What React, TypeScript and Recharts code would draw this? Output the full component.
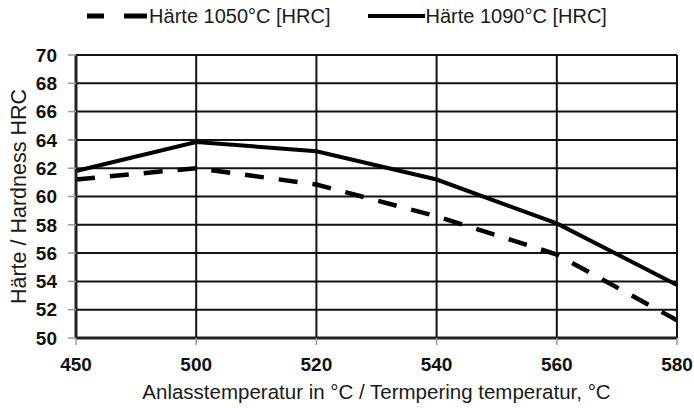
import { CartesianGrid, Label, Legend, Line, LineChart, XAxis, YAxis } from "recharts";

// Anlasstemperatur (°C)
const temps = ["450", "500", "520", "540", "560", "580"];
// Härte nach Härtetemperatur 1050 °C
const haerte1050 = [61.2, 62.0, 60.85, 58.6, 55.9, 51.25];
// Härte nach Härtetemperatur 1090 °C
const haerte1090 = [61.8, 63.85, 63.2, 61.2, 58.1, 53.75];
const yTicks = [50, 52, 54, 56, 58, 60, 62, 64, 66, 68, 70];

const data = temps.map((t, i) => ({
  temp: t,
  h1050: haerte1050[i],
  h1090: haerte1090[i],
}));

const font = "'Liberation Sans', Arial, sans-serif";

const LegendBox = () => (
  <div
    style={{
      height: 32,
      display: "flex",
      justifyContent: "center",
      alignItems: "center",
      fontFamily: font,
      fontSize: 20,
      color: "#1a1a1a",
    }}
  >
    <svg width={60} height={10} style={{ marginRight: 2 }}>
      <line x1={0} y1={5} x2={17} y2={5} stroke="#000" strokeWidth={5} />
      <line x1={37} y1={5} x2={60} y2={5} stroke="#000" strokeWidth={5} />
    </svg>
    <span>Härte 1050°C [HRC]</span>
    <svg width={57} height={10} style={{ marginLeft: 37, marginRight: 1 }}>
      <line x1={0} y1={5} x2={57} y2={5} stroke="#000" strokeWidth={4} />
    </svg>
    <span>Härte 1090°C [HRC]</span>
  </div>
);

export default function App() {
  return (
    <div style={{ position: "absolute", left: 0, top: 0, background: "#fff" }}>
      <LineChart
        width={694}
        height={408}
        data={data}
        margin={{ top: 23, right: 17, bottom: 0, left: 0 }}
      >
        <CartesianGrid stroke="#111" strokeWidth={2} />
        <XAxis
          dataKey="temp"
          height={70}
          axisLine={{ stroke: "#222", strokeWidth: 3 }}
          tickLine={{ stroke: "#999", strokeWidth: 1.5 }}
          tickSize={7}
          tickMargin={13}
          tick={{ fill: "#111", fontSize: 19, fontWeight: "bold", fontFamily: font }}
        >
          <Label
            value="Anlasstemperatur in °C / Termpering temperatur, °C"
            position="insideBottom"
            offset={9}
            style={{ fill: "#1a1a1a", fontSize: 20.5, fontFamily: font }}
          />
        </XAxis>
        <YAxis
          width={76}
          domain={[50, 70]}
          ticks={yTicks}
          interval={0}
          axisLine={{ stroke: "#222", strokeWidth: 3 }}
          tickLine={{ stroke: "#999", strokeWidth: 1.5 }}
          tickSize={8}
          tickMargin={11}
          tick={{ fill: "#111", fontSize: 19, fontWeight: "bold", fontFamily: font }}
        >
          <Label
            value="Härte / Hardness HRC"
            angle={-90}
            position="insideLeft"
            offset={18}
            style={{ textAnchor: "middle", fill: "#1a1a1a", fontSize: 21.5, fontFamily: font }}
          />
        </YAxis>
        <Legend
          verticalAlign="top"
          content={<LegendBox />}
          wrapperStyle={{ top: 0, left: 0, width: 694 }}
        />
        <Line
          dataKey="h1050"
          stroke="#000"
          strokeWidth={4.5}
          strokeDasharray="19 15"
          dot={false}
          isAnimationActive={false}
        />
        <Line
          dataKey="h1090"
          stroke="#000"
          strokeWidth={4}
          dot={false}
          isAnimationActive={false}
        />
      </LineChart>
    </div>
  );
}
